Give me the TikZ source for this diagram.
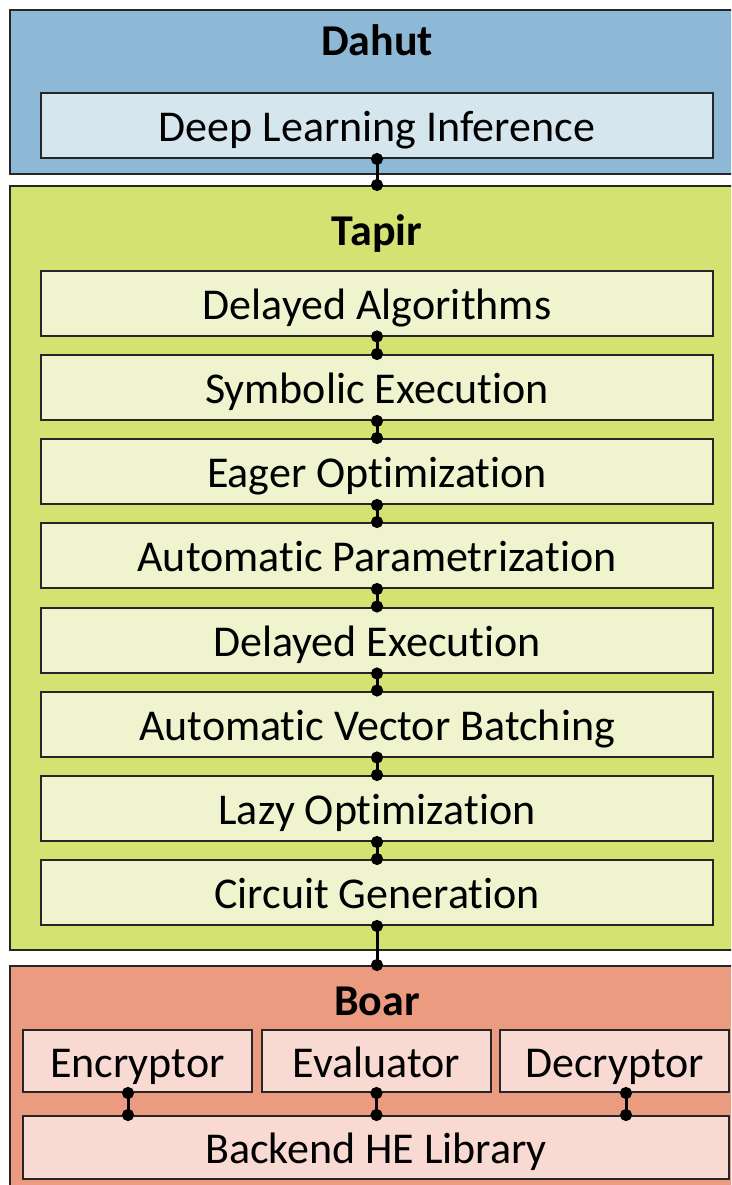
\documentclass[tikz,border=0pt]{standalone}
\usepackage{fontspec}
\setmainfont[Ligatures={NoCommon}]{Carlito}
\usetikzlibrary{arrows.meta}
\definecolor{dahutO}{HTML}{8DB9D6}
\definecolor{dahutI}{HTML}{D6E6EF}
\definecolor{tapirO}{HTML}{D4E272}
\definecolor{tapirI}{HTML}{EFF4CE}
\definecolor{boarO}{HTML}{EB9B7F}
\definecolor{boarI}{HTML}{F8DAD2}
\begin{document}
\begin{tikzpicture}[x=1pt,y=-1pt,
  outer/.style={draw=black!85, line width=2pt, inner sep=0pt},
  inbox/.style={draw=black!85, line width=2pt, inner sep=0pt, minimum width=672pt, minimum height=65pt, text height=32pt, text depth=0pt, font=\fontsize{44}{48}\selectfont},
  smallbox/.style={draw=black!85, line width=2pt, inner sep=0pt, minimum width=229pt, minimum height=62pt, text height=32pt, text depth=0pt, font=\fontsize{44}{48}\selectfont},
  title/.style={text height=32pt, text depth=0pt, inner sep=0pt, font=\fontsize{44}{48}\selectfont\bfseries},
  conn/.style={line width=3pt, shorten <=-6pt, shorten >=-6pt, {Circle[length=12pt,width=12pt]}-{Circle[length=12pt,width=12pt]}}]
\useasboundingbox (0,0) rectangle (731,1185);
\clip (0,0) rectangle (731,1185);
% outer layers
\node[outer, fill=dahutO, minimum width=735pt, minimum height=164pt] (dahut) at (377.5,92) {};
\node[outer, fill=tapirO, minimum width=735pt, minimum height=764pt] (tapir) at (377.5,568) {};
\node[outer, fill=boarO, minimum width=735pt, minimum height=234pt] (boar) at (377.5,1083) {};
\node[title] (dahutT) at (377,40) {Dahut};
\node[title] (tapirT) at (377,229) {Tapir};
\node[title] (boarT) at (377,999) {Boar};
% Dahut
\node[inbox, fill=dahutI] (dli) at (377,125.5) {Deep Learning Inference};
% Tapir
\node[inbox, fill=tapirI] (t1) at (377,303) {Delayed Algorithms};
\node[inbox, fill=tapirI] (t2) at (377,387.5) {Symbolic Execution};
\node[inbox, fill=tapirI] (t3) at (377,471.5) {Eager Optimization};
\node[inbox, fill=tapirI] (t4) at (377,555.5) {Automatic Parametrization};
\node[inbox, fill=tapirI] (t5) at (377,640) {Delayed Execution};
\node[inbox, fill=tapirI] (t6) at (377,724) {Automatic Vector Batching};
\node[inbox, fill=tapirI] (t7) at (377,808.5) {Lazy Optimization};
\node[inbox, fill=tapirI] (t8) at (377,892.5) {Circuit Generation};
% Boar
\node[smallbox, fill=boarI] (enc) at (137.5,1061) {Encryptor};
\node[smallbox, fill=boarI] (eva) at (376.5,1061) {Evaluator};
\node[smallbox, fill=boarI] (dec) at (614.5,1061) {Decryptor};
\node[inbox, fill=boarI, minimum width=706pt, minimum height=63pt] (be) at (376,1147.5) {Backend HE Library};
\coordinate (encx) at (128,0);
\coordinate (decx) at (626,0);
% connectors
\draw[conn] (dli.south) -- (tapir.north -| dli.south);
\foreach \a/\b in {t1/t2,t2/t3,t3/t4,t4/t5,t5/t6,t6/t7,t7/t8}
  \draw[conn] (\a.south) -- (\b.north);
\draw[conn] (t8.south) -- (boar.north -| t8.south);
\draw[conn] (encx |- enc.south) -- (encx |- be.north);
\draw[conn] (eva.south) -- (eva.south |- be.north);
\draw[conn] (decx |- dec.south) -- (decx |- be.north);
\end{tikzpicture}
\end{document}
